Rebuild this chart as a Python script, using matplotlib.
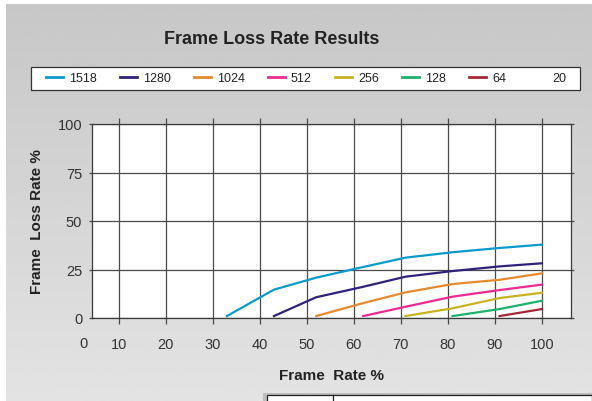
import matplotlib
matplotlib.use('Agg')
import matplotlib.pyplot as plt
import numpy as np
from matplotlib.patches import Rectangle
from matplotlib.transforms import blended_transform_factory

plt.rcParams['font.family'] = ['Liberation Sans', 'DejaVu Sans']

# frame rate points (%) shared by all series
rate = [33, 43, 52, 62, 71, 81, 91, 100]

sizes = ['1518', '1280', '1024', '512', '256', '128', '64', '20']
loss_1518 = [1.0, 14.6, 20.8, 26.3, 31.1, 33.9, 36.1, 37.8]
loss_1280 = [1.0, 10.7, 16.1, 21.3, 24.2, 26.6, 28.2]
loss_1024 = [1.0, 7.7, 13.2, 17.5, 19.7, 23.0]
loss_512 = [1.0, 5.8, 11.0, 14.4, 17.2]
loss_256 = [1.0, 5.0, 10.3, 13.0]
loss_128 = [1.0, 4.6, 8.9]
loss_64 = [1.0, 4.6]
loss_20 = []

series = [loss_1518, loss_1280, loss_1024, loss_512, loss_256, loss_128, loss_64, loss_20]
colors = ['#0a9acb', '#2e2379', '#e8892e', '#ee2a90', '#c9b322', '#1cb26b', '#a62838', '#ffffff']

W, H = 592, 402
fig = plt.figure(figsize=(W / 100, H / 100), dpi=100, facecolor='white')

# gray gradient background
bg = fig.add_axes([6 / W, 0, 1 - 6 / W, 1 - 5 / H], zorder=-10)
grad = np.linspace(0.78, 0.89, 200).reshape(-1, 1)
bg.imshow(grad, aspect='auto', cmap='gray', vmin=0, vmax=1, extent=[0, 1, 0, 1])
bg.set_axis_off()

ax = fig.add_axes([92 / W, 1 - 319 / H, (571 - 92) / W, (319 - 125) / H])
ax.set_facecolor('white')

for vals, c, name in zip(series, colors, sizes):
    n = len(vals)
    ax.plot(rate[len(rate) - n:], vals, color=c, lw=1.6, label=name, zorder=3)

ax.set_xlim(4.3, 106.2)
ax.set_ylim(0, 100)
ax.set_xticks(range(10, 101, 10))
ax.set_yticks([0, 25, 50, 75, 100])
ax.grid(True, color='#4a4a4a', lw=0.9)
ax.set_axisbelow(True)
for s in ax.spines.values():
    s.set_color('#3a3a3a')
    s.set_linewidth(0.9)

ax.tick_params(axis='x', which='both', direction='out', length=4, width=0.9,
               color='#4a4a4a', top=True, pad=10, labelsize=10.5, labelcolor='#333333')
ax.tick_params(axis='y', which='both', direction='out', length=0, right=True,
               pad=5, labelsize=10.5, labelcolor='#333333')
ax.tick_params(axis='y', which='both', right=True, length=2, width=0.9, color='#4a4a4a')

# stray "0" label left of the plot area
tr = blended_transform_factory(ax.transData, ax.transAxes)
ax.text(2.4, -0.128, '0', transform=tr, ha='center', va='center',
        fontsize=10.5, color='#333333', clip_on=False)

ax.set_xlabel('Frame  Rate %', fontsize=11, fontweight='bold', color='#222222', labelpad=12)
ax.set_ylabel('Frame  Loss Rate %', fontsize=11, fontweight='bold', color='#222222', labelpad=10)

fig.text(272 / W, 1 - 40 / H, 'Frame Loss Rate Results', ha='center', va='center',
         fontsize=13, fontweight='bold', color='#222222')

# legend box drawn by hand, legend itself without frame
fig.patches.append(Rectangle((31 / W, 1 - 91 / H), (580 - 31) / W, (91 - 67.5) / H,
                             transform=fig.transFigure, facecolor='white',
                             edgecolor='#333333', lw=0.9, zorder=1))
leg = fig.legend(loc='center left', bbox_to_anchor=(46 / W, 1 - 79.5 / H),
                 ncol=8, fontsize=9, frameon=False, handlelength=1.36,
                 handletextpad=0.48, columnspacing=1.85, borderaxespad=0, borderpad=0)
leg.set_zorder(2)
for t in leg.get_texts():
    t.set_color('#222222')
for h in leg.get_lines():
    h.set_linewidth(2.0)

# partial table box at the bottom edge
fig.patches.append(Rectangle((263 / W, 0), (W - 263) / W, 8 / H, transform=fig.transFigure,
                             facecolor='#bdbdbd', edgecolor='none', zorder=1))
fig.patches.append(Rectangle((267 / W, -0.01), (W - 267) / W, 6 / H + 0.01, transform=fig.transFigure,
                             facecolor='white', edgecolor='#222222', lw=0.9, zorder=2))
fig.lines.append(plt.Line2D([333 / W, 333 / W], [0, 6 / H], transform=fig.transFigure,
                            color='#222222', lw=0.9, zorder=3))

fig.savefig('out.png', dpi=100)
